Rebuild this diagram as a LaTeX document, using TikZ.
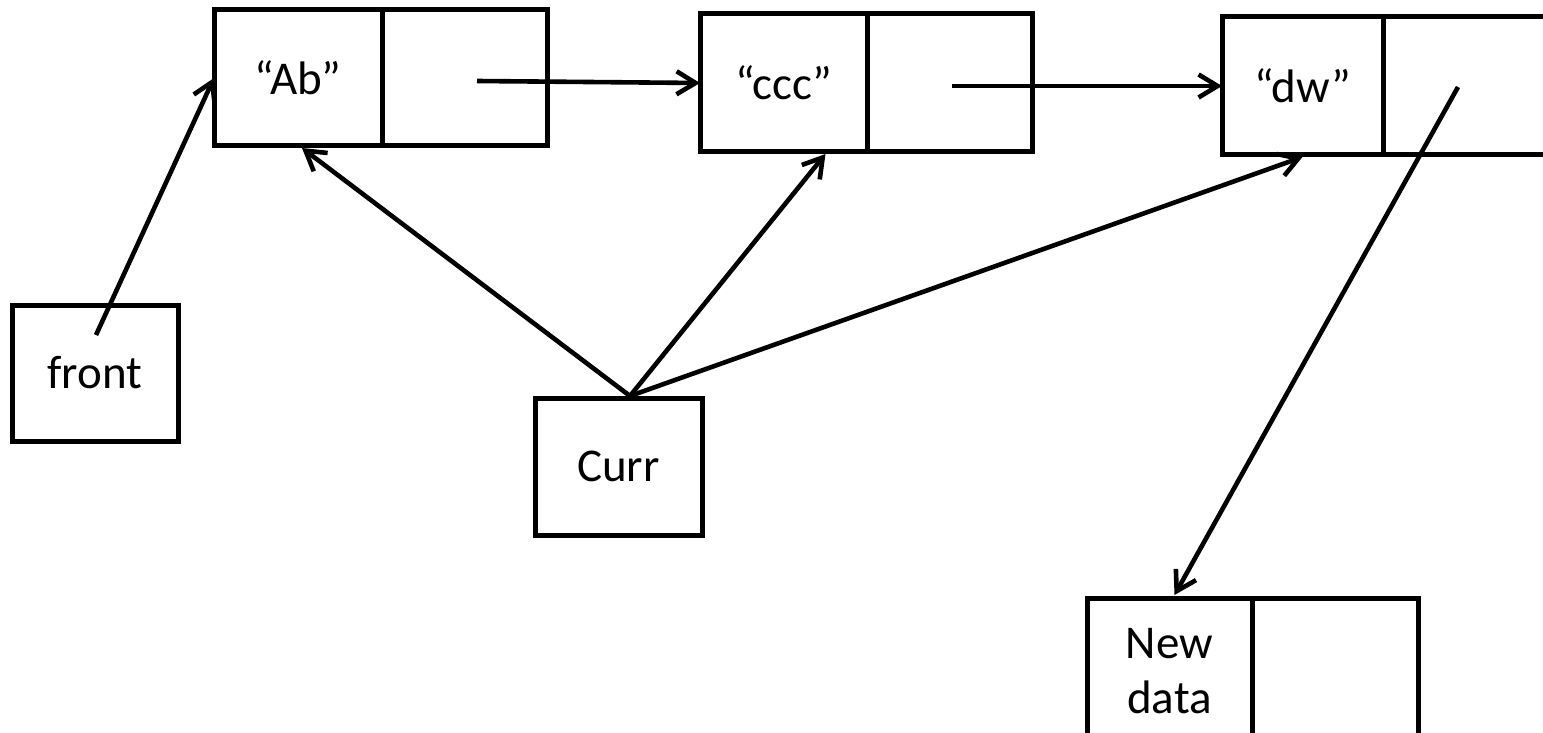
\documentclass[tikz,border=0pt]{standalone}
\usepackage{fontspec}
\setmainfont{Carlito}
\usetikzlibrary{arrows.meta}
\begin{document}
\begin{tikzpicture}[x=0.5pt,y=-0.5pt,
  cell/.style={draw=black, line width=2.5pt, inner sep=0pt, outer sep=0pt,
    font=\fontsize{23.5}{27.5}\selectfont, align=center},
  link/.style={line width=2.3pt, -{Straight Barb[length=9.5pt,width=11.5pt,line width=2.3pt]}}]
\useasboundingbox (0,0) rectangle (1543,733);
\clip (0,0) rectangle (1543,733);

% list nodes: data cell + pointer cell
\node[cell, minimum width=84pt, minimum height=68pt] (abD) at (298,78) {“Ab”};
\node[cell, minimum width=82.5pt, minimum height=68pt] (abP) at (464.5,78) {};
\node[cell, minimum width=83.5pt, minimum height=69pt] (cD) at (783.5,83) {“ccc”};
\node[cell, minimum width=82.5pt, minimum height=69pt] (cP) at (949.5,83) {};
\node[cell, minimum width=80.5pt, minimum height=69pt] (dD) at (1302.5,86) {“dw”};
\node[cell, minimum width=88.5pt, minimum height=69pt] (dP) at (1471.5,86) {};

% the new node being inserted
\node[cell, minimum width=82.5pt, minimum height=73.5pt] (nD) at (1169.5,671.5) {New\\data};
\node[cell, minimum width=83pt, minimum height=73.5pt] (nP) at (1335,671.5) {};

% external pointers
\node[cell, minimum width=83pt, minimum height=68pt] (front) at (95,373) {front};
\node[cell, minimum width=83.5pt, minimum height=68.5pt] (curr) at (618.5,466.5) {Curr};

% pointer origins
\coordinate (p1) at (477,81);
\coordinate (p2) at (952,86);
\coordinate (p3) at (1458,87);
\coordinate (f0) at (96,335);
\coordinate (c0) at (630,396);

\draw[link] (p1) -- (cD.west);
\draw[link] (p2) -- (dD.west);
\draw[link] (p3) -- ([xshift=2.5pt,yshift=1.5pt]nD.north);
\draw[link] (f0) -- (abD.west);
\draw[link] (c0) -- ([xshift=2pt,yshift=-1pt]abD.south);
\draw[link] (c0) -- ([xshift=21pt,yshift=-1pt]cD.south);
\draw[link] (c0) -- ([yshift=-1pt]dD.south);
\end{tikzpicture}
\end{document}
